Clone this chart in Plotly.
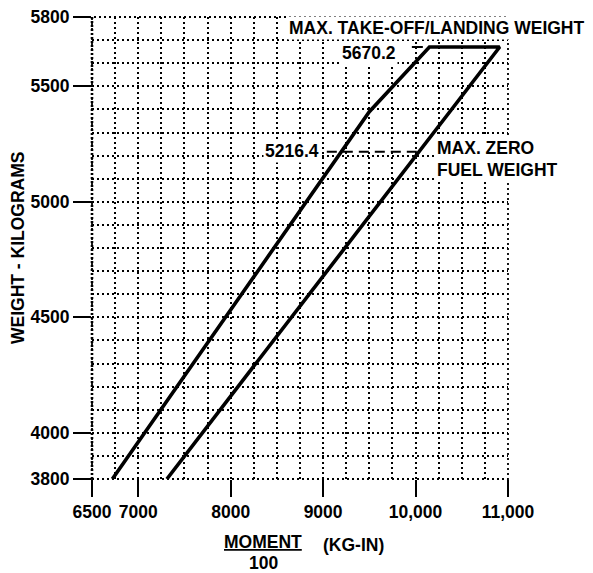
import plotly.graph_objects as go

# ---- data ----
envelope_moment = [6720, 9500, 10150, 10910, 7310]
envelope_weight = [3800, 5390, 5670.2, 5670.2, 3800]

mtow_dash_moment = [9960, 10150]
mtow_dash_weight = [5670.2, 5670.2]
mtow_label = "5670.2"

mzfw_dash_moment = [9040, 10040]
mzfw_dash_weight = [5216.4, 5216.4]
mzfw_label = "5216.4"

x_tickvals = [6500, 7000, 8000, 9000, 10000, 11000]
x_ticktext = ["6500", "7000", "8000", "9000", "10,000", "11,000"]
y_tickvals = [3800, 4000, 4500, 5000, 5500, 5800]
y_ticktext = ["3800", "4000", "4500", "5000", "5500", "5800"]

FONT = "Liberation Sans, Arial, sans-serif"
FS = 17.5
BLACK = "black"

fig = go.Figure()

fig.add_trace(go.Scatter(
    x=envelope_moment, y=envelope_weight, mode="lines",
    line=dict(color=BLACK, width=3.6), hoverinfo="skip", showlegend=False,
    cliponaxis=False))
fig.add_trace(go.Scatter(
    x=mtow_dash_moment, y=mtow_dash_weight, mode="lines",
    line=dict(color=BLACK, width=2, dash="11px,9px"), showlegend=False))
fig.add_trace(go.Scatter(
    x=mzfw_dash_moment, y=mzfw_dash_weight, mode="lines",
    line=dict(color=BLACK, width=2, dash="10px,6px"), showlegend=False))

griddash = "2px,3px"
GW = 1.8
fig.update_xaxes(
    range=[6500, 11000], tickvals=x_tickvals, ticktext=x_ticktext,
    ticks="outside", ticklen=17, tickwidth=2, tickcolor=BLACK,
    showgrid=True, gridcolor=BLACK, gridwidth=GW, griddash=griddash,
    minor=dict(tick0=6500, dtick=250, showgrid=True, gridcolor=BLACK,
               gridwidth=GW, griddash=griddash, ticks=""),
    showline=False, zeroline=False, ticklabeloverflow="allow",
    tickfont=dict(family=FONT, size=FS, color=BLACK, weight="bold"),
)
fig.update_yaxes(
    range=[3800, 5800], tickvals=y_tickvals, ticktext=y_ticktext,
    ticks="outside", ticklen=18, tickwidth=2, tickcolor=BLACK,
    showgrid=True, gridcolor=BLACK, gridwidth=GW, griddash=griddash,
    minor=dict(tick0=3800, dtick=100, showgrid=True, gridcolor=BLACK,
               gridwidth=GW, griddash=griddash, ticks=""),
    showline=False, zeroline=False, ticklabeloverflow="allow",
    tickfont=dict(family=FONT, size=FS, color=BLACK, weight="bold"),
)

# dotted frame along the plot edges (grid lines at the range ends)
fig.add_shape(type="rect", xref="paper", yref="paper", x0=0, x1=1, y0=0, y1=1,
              line=dict(color=BLACK, width=GW, dash=griddash), layer="below")
fig.add_shape(type="line", xref="paper", yref="paper", x0=0, x1=0, y0=0, y1=1,
              line=dict(color=BLACK, width=2.6, dash="2px,2px"), layer="below")

afont = dict(family=FONT, size=FS, color=BLACK, weight="bold")
ann = [
    dict(text="MAX. TAKE-OFF/LANDING WEIGHT", xref="paper", x=1.19, y=5752,
         xanchor="right", yanchor="middle"),
    dict(text=mtow_label, xref="x", x=9808, y=5645,
         xanchor="right", yanchor="middle"),
    dict(text=mzfw_label, xref="x", x=8976, y=5222,
         xanchor="right", yanchor="middle"),
    dict(text="MAX. ZERO", xref="x", x=10208, y=5233,
         xanchor="left", yanchor="middle"),
    dict(text="FUEL WEIGHT", xref="x", x=10208, y=5139,
         xanchor="left", yanchor="middle"),
]
for a in ann:
    fig.add_annotation(yref="y", showarrow=False, font=afont,
                       bgcolor="white", borderpad=1, **a)

PW, PH = 416, 462
# axis titles
fig.add_annotation(text="WEIGHT - KILOGRAMS", xref="paper", yref="paper",
                   x=(18 - 92) / PW, y=0.5, textangle=-90, showarrow=False,
                   xanchor="center", yanchor="middle", font=afont)
fig.add_annotation(text="<u>MOMENT</u>", xref="paper", yref="paper",
                   x=(263 - 92) / PW, y=-(542 - 479) / PH, showarrow=False,
                   xanchor="center", yanchor="middle", font=afont)
fig.add_annotation(text="100", xref="paper", yref="paper",
                   x=(263 - 92) / PW, y=-(563 - 479) / PH, showarrow=False,
                   xanchor="center", yanchor="middle", font=afont)
fig.add_annotation(text="(KG-IN)", xref="paper", yref="paper",
                   x=(353 - 92) / PW, y=-(545 - 479) / PH, showarrow=False,
                   xanchor="center", yanchor="middle", font=afont)

# the page body adds an 8px offset, so the figure is sized to fit inside it
fig.update_layout(
    width=585, height=565,
    margin=dict(l=84, r=85, t=9, b=94, autoexpand=False),
    paper_bgcolor="white", plot_bgcolor="white",
    showlegend=False,
    font=dict(family=FONT, size=FS, color=BLACK),
)

fig.write_html("out.html")
